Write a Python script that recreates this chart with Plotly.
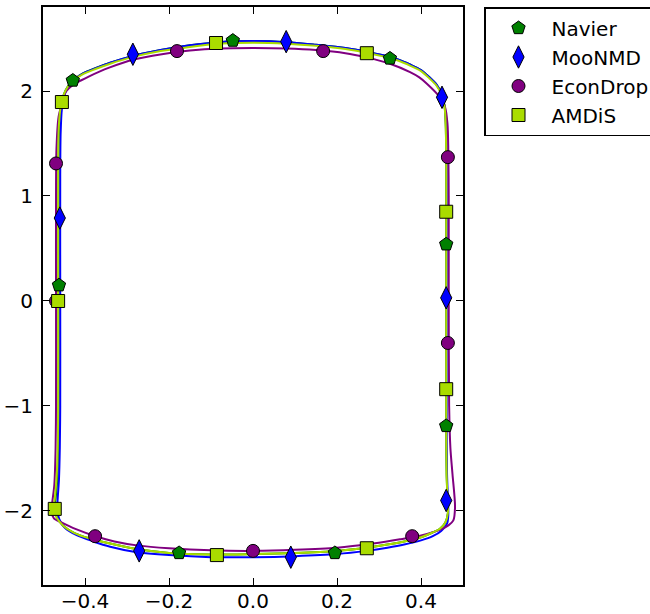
import plotly.graph_objects as go

# ---- data ----
series_names = ["Navier", "MooNMD", "EconDrop", "AMDiS"]
series_colors = ["#008000", "#0000ff", "#800080", "#aadc00"]
series_symbols = ["pentagon", "diamond-tall", "circle", "square"]

# contour lines
navier_x = [-0.463, -0.463, -0.462, -0.458, -0.451, -0.440, -0.426, -0.404, -0.374, -0.34, -0.29, -0.22, -0.15, -0.08, 0.0, 0.08, 0.15, 0.22, 0.27, 0.31, 0.345, 0.375, 0.40, 0.42, 0.437, 0.449, 0.456, 0.459, 0.460, 0.460, 0.460, 0.461, 0.463, 0.464, 0.458, 0.445, 0.425, 0.40, 0.36, 0.32, 0.27, 0.2, 0.1, 0.0, -0.1, -0.2, -0.28, -0.34, -0.39, -0.425, -0.452, -0.467, -0.473, -0.470, -0.466, -0.464, -0.463, -0.463]
navier_y = [0.0, 1.2, 1.6, 1.83, 1.96, 2.05, 2.11, 2.17, 2.22, 2.27, 2.33, 2.39, 2.435, 2.465, 2.475, 2.465, 2.44, 2.41, 2.375, 2.34, 2.30, 2.25, 2.20, 2.13, 2.06, 1.97, 1.86, 1.66, 1.3, 0.0, -1.3, -1.65, -1.88, -2.02, -2.11, -2.17, -2.21, -2.25, -2.29, -2.32, -2.35, -2.38, -2.40, -2.41, -2.415, -2.40, -2.36, -2.31, -2.26, -2.21, -2.14, -2.06, -1.98, -1.88, -1.7, -1.4, -1.0, 0.0]

moonmd_x = [-0.459, -0.459, -0.458, -0.455, -0.449, -0.439, -0.425, -0.403, -0.373, -0.34, -0.29, -0.22, -0.15, -0.08, 0.0, 0.08, 0.15, 0.22, 0.27, 0.31, 0.345, 0.375, 0.40, 0.42, 0.437, 0.449, 0.456, 0.460, 0.461, 0.461, 0.461, 0.462, 0.464, 0.465, 0.462, 0.448, 0.428, 0.40, 0.36, 0.32, 0.27, 0.2, 0.1, 0.0, -0.1, -0.2, -0.28, -0.34, -0.38, -0.42, -0.448, -0.461, -0.466, -0.465, -0.462, -0.460, -0.459, -0.459]
moonmd_y = [0.0, 1.2, 1.6, 1.83, 1.96, 2.05, 2.11, 2.17, 2.22, 2.27, 2.33, 2.39, 2.435, 2.465, 2.475, 2.465, 2.44, 2.41, 2.375, 2.34, 2.30, 2.25, 2.20, 2.13, 2.06, 1.97, 1.86, 1.66, 1.3, 0.0, -1.3, -1.65, -1.88, -2.04, -2.12, -2.19, -2.24, -2.28, -2.32, -2.35, -2.38, -2.41, -2.43, -2.44, -2.44, -2.42, -2.39, -2.34, -2.29, -2.23, -2.16, -2.08, -1.97, -1.88, -1.7, -1.4, -1.0, 0.0]

econ_x = [-0.469, -0.469, -0.468, -0.463, -0.455, -0.446, -0.428, -0.41, -0.39, -0.344, -0.284, -0.217, -0.15, -0.08, 0.0, 0.08, 0.15, 0.22, 0.27, 0.326, 0.374, 0.396, 0.414, 0.441, 0.457, 0.463, 0.465, 0.466, 0.466, 0.467, 0.470, 0.475, 0.481, 0.477, 0.466, 0.453, 0.43, 0.398, 0.35, 0.286, 0.2, 0.1, 0.0, -0.1, -0.2, -0.272, -0.33, -0.371, -0.423, -0.455, -0.474, -0.480, -0.478, -0.473, -0.470, -0.469, -0.469]
econ_y = [0.0, 1.0, 1.44, 1.75, 1.88, 1.99, 2.06, 2.10, 2.14, 2.22, 2.30, 2.35, 2.385, 2.405, 2.41, 2.405, 2.39, 2.36, 2.32, 2.26, 2.18, 2.13, 2.07, 1.96, 1.85, 1.69, 1.44, 1.0, 0.0, -1.0, -1.40, -1.65, -1.96, -2.09, -2.135, -2.165, -2.20, -2.235, -2.27, -2.31, -2.35, -2.37, -2.38, -2.375, -2.355, -2.33, -2.29, -2.245, -2.17, -2.11, -2.07, -2.0, -1.92, -1.75, -1.4, -1.0, 0.0]

amdis_x = [-0.464, -0.464, -0.463, -0.459, -0.452, -0.441, -0.427, -0.405, -0.375, -0.34, -0.29, -0.22, -0.15, -0.08, 0.0, 0.08, 0.15, 0.22, 0.27, 0.31, 0.345, 0.375, 0.40, 0.42, 0.437, 0.449, 0.456, 0.459, 0.460, 0.460, 0.460, 0.461, 0.463, 0.464, 0.458, 0.445, 0.425, 0.40, 0.36, 0.32, 0.27, 0.2, 0.1, 0.0, -0.1, -0.2, -0.28, -0.34, -0.39, -0.425, -0.452, -0.468, -0.475, -0.472, -0.468, -0.465, -0.464, -0.464]
amdis_y = [0.0, 1.2, 1.6, 1.82, 1.95, 2.04, 2.10, 2.16, 2.21, 2.26, 2.32, 2.38, 2.42, 2.45, 2.46, 2.45, 2.43, 2.40, 2.365, 2.33, 2.29, 2.24, 2.19, 2.12, 2.05, 1.96, 1.85, 1.65, 1.3, 0.0, -1.3, -1.65, -1.88, -2.02, -2.11, -2.17, -2.21, -2.25, -2.29, -2.32, -2.35, -2.38, -2.40, -2.41, -2.415, -2.40, -2.36, -2.31, -2.26, -2.21, -2.14, -2.06, -1.98, -1.88, -1.7, -1.4, -1.0, 0.0]

# marker positions
navier_mx = [-0.429, -0.048, 0.326, 0.460, 0.460, 0.195, -0.176, -0.462]
navier_my = [2.10, 2.48, 2.31, 0.54, -1.19, -2.40, -2.40, 0.15]
moonmd_mx = [-0.286, 0.079, 0.450, 0.460, 0.460, 0.090, -0.271, -0.460]
moonmd_my = [2.35, 2.47, 1.94, 0.03, -1.90, -2.44, -2.38, 0.79]
econ_mx = [-0.181, 0.167, 0.464, 0.464, 0.379, 0.0, -0.376, -0.469, -0.469]
econ_my = [2.38, 2.38, 1.37, -0.40, -2.24, -2.38, -2.24, 1.31, 0.0]
amdis_mx = [-0.455, -0.088, 0.271, 0.460, 0.460, 0.271, -0.086, -0.472, -0.464]
amdis_my = [1.895, 2.457, 2.36, 0.85, -0.84, -2.355, -2.42, -1.98, 0.0]

x_tickvals = [-0.4, -0.2, 0.0, 0.2, 0.4]
x_ticktext = ["\u22120.4", "\u22120.2", "0.0", "0.2", "0.4"]
y_tickvals = [-2, -1, 0, 1, 2]
y_ticktext = ["\u22122", "\u22121", "0", "1", "2"]

lines = [(navier_x, navier_y), (moonmd_x, moonmd_y), (econ_x, econ_y), (amdis_x, amdis_y)]
marks = [(navier_mx, navier_my), (moonmd_mx, moonmd_my), (econ_mx, econ_my), (amdis_mx, amdis_my)]
marker_sizes = [14, 16, 13, 13]

fig = go.Figure()
for (lx, ly), c in zip(lines, series_colors):
    fig.add_trace(go.Scatter(x=lx, y=ly, mode="lines", showlegend=False,
                             line=dict(color=c, width=2, shape="spline", smoothing=0.8),
                             hoverinfo="skip"))
for (mx, my), name, c, s, sz in zip(marks, series_names, series_colors, series_symbols, marker_sizes):
    fig.add_trace(go.Scatter(x=mx, y=my, mode="markers", name=name,
                             marker=dict(color=c, symbol=s, size=sz,
                                         line=dict(color="black", width=1))))

axis_common = dict(showline=True, linecolor="black", linewidth=1.8, mirror="ticks",
                   ticks="inside", ticklen=7, tickwidth=1.2, tickcolor="black",
                   showgrid=False, zeroline=False, automargin=False,
                   tickfont=dict(family="DejaVu Sans", size=20, color="black"))
fig.update_xaxes(range=[-0.5, 0.5], tickvals=x_tickvals, ticktext=x_ticktext,
                 ticklabelstandoff=-3, **axis_common)
fig.update_yaxes(range=[-2.705, 2.8], tickvals=y_tickvals, ticktext=y_ticktext,
                 ticklabelstandoff=4, **axis_common)

fig.update_layout(
    width=650, height=614,
    margin=dict(l=43, r=187, t=7, b=29, autoexpand=False),
    paper_bgcolor="white", plot_bgcolor="white",
    font=dict(family="DejaVu Sans", size=20, color="black"),
    legend=dict(x=1.05, y=1.0, xanchor="left", yanchor="top",
                bordercolor="black", borderwidth=1.5, bgcolor="white",
                font=dict(family="DejaVu Sans", size=20, color="black"),
                tracegroupgap=0, itemwidth=56),
)

fig.write_html("out.html", config={"displayModeBar": False},
               post_script="document.body.style.margin='0';document.body.style.padding='0';")
